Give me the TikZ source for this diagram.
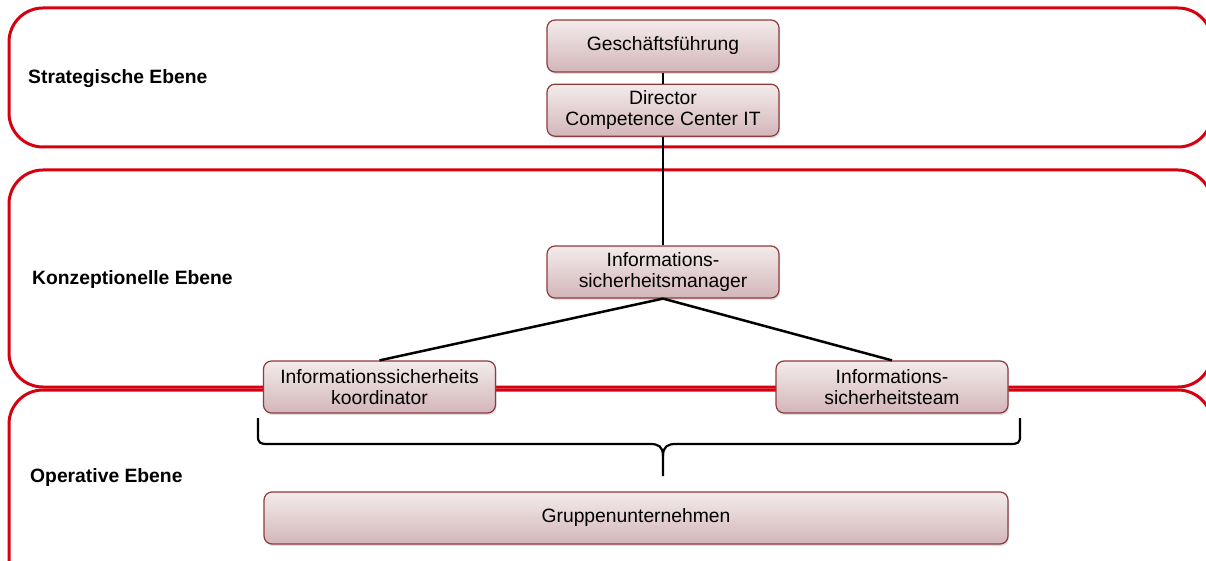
\documentclass[tikz,border=0pt]{standalone}
\usepackage{fontspec}
\setmainfont{Liberation Sans}
\usetikzlibrary{positioning,shadows}

\definecolor{ebenenrot}{HTML}{D7000F}
\definecolor{boxrand}{HTML}{8E3B3F}
\definecolor{boxhell}{HTML}{F3EBEB}
\definecolor{boxdunkel}{HTML}{D3B6B9}

\tikzset{
  ebene/.style={draw=ebenenrot, line width=3pt, rounded corners=34pt},
  ebenentext/.style={anchor=west, inner sep=0pt, font=\fontsize{19.3}{22}\selectfont\bfseries},
  rolle/.style={draw=boxrand, line width=1.2pt, rounded corners=8pt,
    top color=boxhell, bottom color=boxdunkel,
    drop shadow={opacity=0.25, shadow xshift=1pt, shadow yshift=-2pt},
    minimum width=232pt, minimum height=52pt, inner sep=2pt,
    align=center, font=\fontsize{19.3}{21.5}\selectfont},
  linie/.style={line width=2.5pt, black}
}

\begin{document}
\begin{tikzpicture}[x=1pt, y=-1pt]

\useasboundingbox (0,0) rectangle (1206,561);
\clip (0,0) rectangle (1206,561);

% draw layers
\draw [ebene] (9,8) rectangle (1212,147);
\draw [ebene] (9,170) rectangle (1212,387);
\draw [ebene] (9,390) rectangle (1212,620);

\node [ebenentext] (strat) at (28,79) {Strategische Ebene};
\node [ebenentext] (konz) at (32,280) {Konzeptionelle Ebene};
\node [ebenentext] (oper) at (30,478) {Operative Ebene};

% draw roles
\node [rolle] (gf) at (663,46) {Geschäftsführung};
\node [rolle, below=11pt of gf] (dir) {Director\\Competence Center IT};
\node [rolle] (ism) at (663,272) {Informations-\\sicherheitsmanager};
\node [rolle] (kor) at (379.5,387) {Informationssicherheits\\koordinator};
\node [rolle] (team) at (892,387) {Informations-\\sicherheitsteam};

% draw connections
\draw [linie] (gf) -- (dir);
\draw [linie] (dir) -- (ism);
\draw [linie] (ism.south) -- (kor.north);
\draw [linie] (ism.south) -- (team.north);

% draw brace
\coordinate (bl) at (258,418);
\coordinate (br) at (1020,418);
\coordinate (bt) at (663,476);
\draw [linie, line width=2.2pt] (bl) -- (258,436) .. controls (258,443) and (260,444) .. (268,444)
  -- (650,444) .. controls (658,444) and (663,446) .. (663,456) -- (bt);
\draw [linie, line width=2.2pt] (br) -- (1020,436) .. controls (1020,443) and (1018,444) .. (1010,444)
  -- (676,444) .. controls (668,444) and (663,446) .. (663,456);

\node [rolle, minimum width=744pt] (grp) at (636,518) {Gruppenunternehmen};

\end{tikzpicture}
\end{document}
